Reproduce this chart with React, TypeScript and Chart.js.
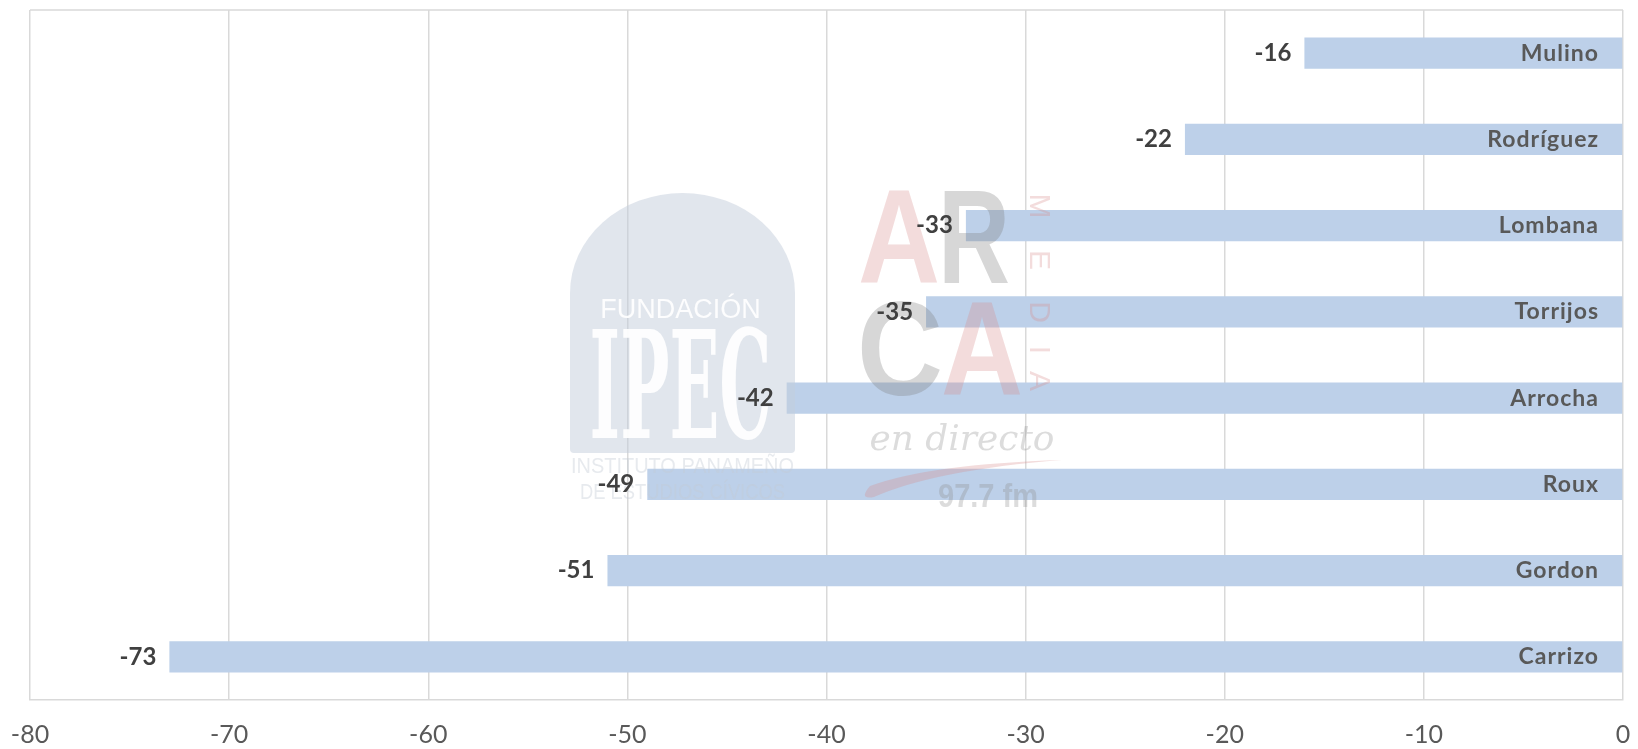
import React, { useEffect, useRef } from "react";
import { Chart, registerables } from "chart.js";

Chart.register(...registerables);

const categories = ["Mulino", "Rodríguez", "Lombana", "Torrijos", "Arrocha", "Roux", "Gordon", "Carrizo"];
const values = [-16, -22, -33, -35, -42, -49, -51, -73];
const xMin = -80;
const xMax = 0;
const xStep = 10;

const FONT = "Lato, 'Open Sans', sans-serif";

const watermarkPlugin = {
  id: "watermark",
  afterDatasetsDraw(chart: any) {
    const ctx = chart.ctx as CanvasRenderingContext2D;
    ctx.save();
    // IPEC arch
    ctx.globalAlpha = 0.5;
    ctx.fillStyle = "#C3CEDB";
    const l = 570, r = 795, t = 193, b = 453;
    const cx = (l + r) / 2, rx = (r - l) / 2, ry = 100;
    ctx.beginPath();
    ctx.moveTo(l, b - 4);
    ctx.lineTo(l, t + ry);
    ctx.ellipse(cx, t + ry, rx, ry, 0, Math.PI, 0);
    ctx.lineTo(r, b - 4);
    ctx.quadraticCurveTo(r, b, r - 4, b);
    ctx.lineTo(l + 4, b);
    ctx.quadraticCurveTo(l, b, l, b - 4);
    ctx.closePath();
    ctx.fill();
    ctx.globalAlpha = 0.92;
    ctx.fillStyle = "#FFFFFF";
    ctx.textAlign = "center";
    ctx.textBaseline = "alphabetic";
    ctx.font = "27px 'Liberation Sans', sans-serif";
    ctx.fillText("FUNDACIÓN", cx - 2, 318, 182);
    ctx.font = "bold 150px 'DejaVu Serif', serif";
    ctx.fillText("IPEC", cx - 2, 438, 182);
    ctx.globalAlpha = 0.4;
    ctx.fillStyle = "#C3CBD4";
    ctx.textBaseline = "middle";
    ctx.font = "22px 'Liberation Sans', sans-serif";
    ctx.fillText("INSTITUTO PANAMEÑO", cx, 467, 223);
    ctx.fillText("DE ESTUDIOS CÍVICOS", cx, 493, 205);
    // ARCA
    ctx.globalAlpha = 0.3;
    ctx.font = "bold 134px 'Liberation Sans', sans-serif";
    ctx.textAlign = "left";
    ctx.textBaseline = "alphabetic";
    ctx.fillStyle = "#D88A8A";
    ctx.fillText("A", 858, 283, 82);
    ctx.fillStyle = "#7A7A7A";
    ctx.fillText("R", 938, 283, 72);
    ctx.fillText("C", 857, 395, 86);
    ctx.fillStyle = "#D88A8A";
    ctx.fillText("A", 941, 395, 82);
    ctx.font = "30px 'Liberation Sans', sans-serif";
    ctx.textAlign = "center";
    ctx.textBaseline = "middle";
    const media = ["M", "E", "D", "I", "A"];
    const mediaY = [206, 260, 312, 350, 381];
    media.forEach((m, i) => {
      ctx.save();
      ctx.translate(1038, mediaY[i]);
      ctx.rotate(Math.PI / 2);
      ctx.fillText(m, 0, 0);
      ctx.restore();
    });
    // swoosh
    ctx.fillStyle = "#D88A8A";
    ctx.beginPath();
    ctx.moveTo(1062, 460);
    ctx.quadraticCurveTo(930, 464, 870, 486);
    ctx.quadraticCurveTo(858, 500, 874, 497);
    ctx.quadraticCurveTo(935, 470, 1062, 460);
    ctx.closePath();
    ctx.fill();
    ctx.textBaseline = "alphabetic";
    ctx.fillStyle = "#8A8A8A";
    ctx.font = "italic 36px 'DejaVu Serif', serif";
    ctx.fillText("en directo", 962, 450, 185);
    ctx.font = "bold 34px 'Liberation Sans', sans-serif";
    ctx.fillText("97.7 fm", 988, 507, 100);
    ctx.restore();
  },
};

const labelsPlugin = {
  id: "barLabels",
  afterDatasetsDraw(chart: any) {
    const ctx = chart.ctx as CanvasRenderingContext2D;
    const meta = chart.getDatasetMeta(0);
    const area = chart.chartArea;
    ctx.save();
    ctx.textBaseline = "middle";
    meta.data.forEach((bar: any, i: number) => {
      ctx.font = `bold 24px ${FONT}`;
      ctx.fillStyle = "#404040";
      ctx.textAlign = "right";
      (ctx as any).letterSpacing = "0px";
      ctx.fillText(String(values[i]), bar.x - 13, bar.y);
      ctx.font = `bold 23px ${FONT}`;
      ctx.fillStyle = "#595959";
      (ctx as any).letterSpacing = "1px";
      ctx.fillText(categories[i], area.right - 24, bar.y);
    });
    (ctx as any).letterSpacing = "0px";
    // top border
    ctx.strokeStyle = "#D9D9D9";
    ctx.lineWidth = 1.5;
    ctx.beginPath();
    ctx.moveTo(area.left, area.top);
    ctx.lineTo(area.right, area.top);
    ctx.stroke();
    ctx.restore();
  },
};

export default function App() {
  const ref = useRef<HTMLCanvasElement>(null);
  useEffect(() => {
    if (!ref.current) return;
    const chart = new Chart(ref.current, {
      type: "bar",
      data: {
        labels: categories,
        datasets: [
          {
            data: values,
            backgroundColor: "#BDD0E9",
            borderWidth: 0,
            barPercentage: 0.36,
            categoryPercentage: 1,
          },
        ],
      },
      options: {
        indexAxis: "y",
        animation: false,
        responsive: false,
        maintainAspectRatio: false,
        layout: { padding: { left: 30, right: 15, top: 10, bottom: 0 } },
        plugins: { legend: { display: false }, tooltip: { enabled: false } },
        scales: {
          x: {
            min: xMin,
            max: xMax,
            ticks: {
              stepSize: xStep,
              font: { family: FONT, size: 25 },
              color: "#595959",
              padding: 20,
            },
            grid: { color: "#D9D9D9", lineWidth: 1.5, drawTicks: false },
            border: { display: true, color: "#D9D9D9", width: 1.5 },
            afterFit: (scale: any) => {
              scale.height = 49;
              scale.paddingLeft = 0;
              scale.paddingRight = 0;
            },
          },
          y: { display: false },
        },
      },
      plugins: [watermarkPlugin, labelsPlugin],
    });
    return () => chart.destroy();
  }, []);
  return (
    <div style={{ position: "fixed", left: 0, top: 0, width: 1638, height: 749, background: "#fff" }}>
      <canvas ref={ref} width={1638} height={749} style={{ display: "block", width: 1638, height: 749 }} />
    </div>
  );
}
